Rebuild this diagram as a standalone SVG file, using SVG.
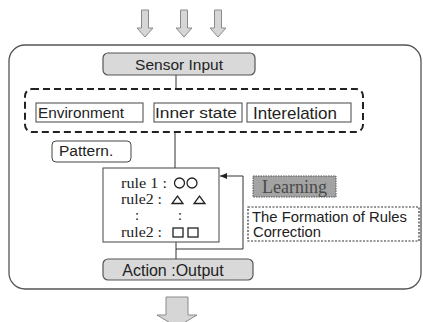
<svg xmlns="http://www.w3.org/2000/svg" width="423" height="322" viewBox="0 0 423 322">
<defs>
<marker id="ah" markerWidth="8" markerHeight="8" refX="7" refY="4" orient="auto" markerUnits="userSpaceOnUse">
<path d="M0,1 L7,4 L0,7 Z" fill="#222"/>
</marker>
</defs>
<style>
.sans{font-family:"Liberation Sans",Arial,sans-serif;fill:#222}
.serif{font-family:"Liberation Serif","Times New Roman",serif;fill:#222}
.grey{fill:#d9d9d9;stroke:#555;stroke-width:1.2}
.arrow{fill:#d6d6d6;stroke:#8a8a8a;stroke-width:1}
.box{fill:#fff;stroke:#444;stroke-width:1}
.conn{fill:none;stroke:#333;stroke-width:1}
.shape{fill:none;stroke:#222;stroke-width:1.3}
.rule{font-size:14.5px}
</style>
<rect width="423" height="322" fill="#fff"/>
<g id="input-arrows">
<path class="arrow" d="M141.5,10 H148.5 V28 H153 L145,37 L137,28 H141.5 Z"/>
<path class="arrow" d="M180.5,10 H187.5 V28 H192 L184,37 L176,28 H180.5 Z"/>
<path class="arrow" d="M214.5,10 H221.5 V28 H226 L218,37 L210,28 H214.5 Z"/>
</g>
<g id="frame">
<rect x="9" y="45" width="412" height="244" rx="16" ry="16" fill="none" stroke="#555" stroke-width="1.3"/>
</g>
<g id="connectors">
<line class="conn" x1="176" y1="75" x2="176" y2="89"/>
<line class="conn" x1="175" y1="132" x2="175" y2="168"/>
<line class="conn" x1="176" y1="242" x2="176" y2="259"/>
<polyline class="conn" points="176,249 243,249 243,176 220,176" marker-end="url(#ah)"/>
</g>
<g id="sensor-input">
<rect class="grey" x="103" y="53" width="152" height="22" rx="5"/>
<text class="sans" x="179" y="70" font-size="15.5" text-anchor="middle">Sensor Input</text>
</g>
<g id="input-group">
<rect x="25" y="89" width="338" height="43" rx="7" fill="none" stroke="#222" stroke-width="2" stroke-dasharray="7,4"/>
</g>
<g id="environment">
<rect class="box" x="36" y="103" width="107" height="19"/>
<text class="sans" x="38" y="118" font-size="15.5" textLength="86" lengthAdjust="spacingAndGlyphs">Environment</text>
</g>
<g id="inner-state">
<rect class="box" x="154" y="103" width="88" height="19"/>
<text class="sans" x="155" y="118" font-size="15.5" textLength="82" lengthAdjust="spacingAndGlyphs">Inner state</text>
</g>
<g id="interelation">
<rect class="box" x="247" y="103" width="104" height="19"/>
<text class="sans" x="253" y="119" font-size="17" textLength="84" lengthAdjust="spacingAndGlyphs">Interelation</text>
</g>
<g id="pattern">
<rect class="box" x="52" y="141" width="79" height="21" rx="4"/>
<text class="sans" x="59" y="156" font-size="15.5">Pattern.</text>
</g>
<g id="rules">
<rect class="box" x="103" y="168" width="116" height="74"/>
<text class="serif rule" x="121" y="188" textLength="46" lengthAdjust="spacingAndGlyphs">rule 1 :</text>
<circle class="shape" cx="179.5" cy="183" r="5"/>
<circle class="shape" cx="192" cy="183" r="5"/>
<text class="serif rule" x="121" y="204" textLength="41" lengthAdjust="spacingAndGlyphs">rule2 :</text>
<path class="shape" d="M172,203.5 L183,203.5 L177.5,196 Z"/>
<path class="shape" d="M194,203.5 L205,203.5 L199.5,196 Z"/>
<text class="serif rule" x="135" y="220">:</text>
<text class="serif rule" x="178" y="220">:</text>
<text class="serif rule" x="121" y="237" textLength="41" lengthAdjust="spacingAndGlyphs">rule2 :</text>
<rect class="shape" x="173" y="228" width="10" height="9"/>
<rect class="shape" x="188" y="228" width="10" height="9"/>
</g>
<g id="action-output">
<rect class="grey" x="103" y="259" width="150" height="21" rx="5"/>
<text class="sans" x="173" y="276" font-size="16" text-anchor="middle">Action :Output</text>
</g>
<g id="learning">
<rect x="253" y="176" width="83" height="21" fill="#a3a3a3" stroke="#555" stroke-width="1" stroke-dasharray="1.5,1"/>
<text class="serif" x="294.5" y="193" font-size="18" text-anchor="middle" style="fill:#4a4a4a">Learning</text>
</g>
<g id="formation">
<rect x="248" y="207" width="171" height="34" fill="#fff" stroke="#333" stroke-width="1.2" stroke-dasharray="2,1.5"/>
<text class="sans" x="252" y="222" font-size="14.5" textLength="155" lengthAdjust="spacingAndGlyphs">The Formation of Rules</text>
<text class="sans" x="253" y="237" font-size="14.5" textLength="68" lengthAdjust="spacingAndGlyphs">Correction</text>
</g>
<g id="output-arrow">
<path class="arrow" d="M166,297 H188 V315 H197 L177,327 L157,315 H166 Z"/>
</g>
</svg>
